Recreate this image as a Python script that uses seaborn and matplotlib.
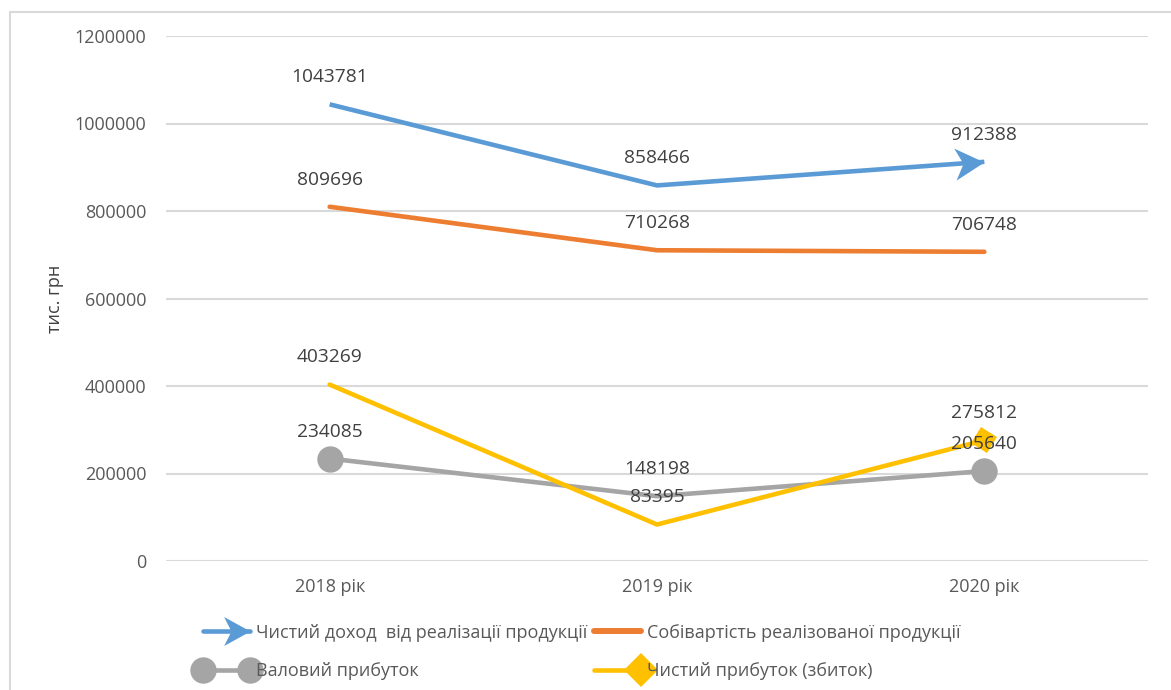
import numpy as np
import pandas as pd
import matplotlib
matplotlib.use("Agg")
import matplotlib.pyplot as plt
import seaborn as sns
from matplotlib.path import Path
from matplotlib.markers import MarkerStyle
from matplotlib.transforms import Affine2D
from matplotlib.lines import Line2D
from matplotlib.legend_handler import HandlerLine2D
from matplotlib.patches import Rectangle

# ---- data -------------------------------------------------------------
years = ["2018 рік", "2019 рік", "2020 рік"]
net_income = [1043781, 858466, 912388]
cost_of_sales = [809696, 710268, 706748]
gross_profit = [234085, 148198, 205640]
net_profit = [403269, 83395, 275812]

names = [
    "Чистий доход  від реалізації продукції",
    "Собівартість реалізованої продукції",
    "Валовий прибуток",
    "Чистий прибуток (збиток)",
]
y_ticks = [0, 200000, 400000, 600000, 800000, 1000000, 1200000]

# ---- style ------------------------------------------------------------
sns.set_theme(style="white")
plt.rcParams["font.family"] = ["Open Sans", "DejaVu Sans"]

BLUE, ORANGE, GREY, GOLD = "#5B9BD5", "#ED7D31", "#A5A5A5", "#FFC000"
TICK_C, LABEL_C = "#595959", "#404040"
LW = 3.3

fig = plt.figure(figsize=(11.71, 6.90), dpi=100)
ax = fig.add_axes([166 / 1171, 1 - 561 / 690, (1148 - 166) / 1171, (561 - 36) / 690])

df = pd.DataFrame({
    "pos": np.arange(len(years)),
    "net_income": net_income,
    "cost_of_sales": cost_of_sales,
    "gross_profit": gross_profit,
    "net_profit": net_profit,
})

ax.set_xlim(-0.5, len(years) - 0.5)
ax.set_ylim(0, 1200000)

# stealth arrowhead whose tip sits at the marker origin
arrow_path = Path(
    [(0, 0), (-1.0, 0.55), (-0.72, 0), (-1.0, -0.55), (0, 0)],
    [Path.MOVETO, Path.LINETO, Path.LINETO, Path.LINETO, Path.CLOSEPOLY],
)


def arrow_marker(angle):
    return MarkerStyle(arrow_path, transform=Affine2D().rotate_deg(angle))


# direction of the last blue segment on screen
fig.canvas.draw()
p1 = ax.transData.transform((1, net_income[1]))
p2 = ax.transData.transform((2, net_income[2]))
seg_angle = np.degrees(np.arctan2(p2[1] - p1[1], p2[0] - p1[0]))

sns.lineplot(data=df, x="pos", y="net_income", ax=ax, color=BLUE, lw=LW,
             marker=arrow_marker(seg_angle), markevery=[2], markersize=42,
             markeredgewidth=0, solid_capstyle="butt", zorder=3)
sns.lineplot(data=df, x="pos", y="cost_of_sales", ax=ax, color=ORANGE, lw=LW,
             solid_capstyle="round", zorder=3)
sns.lineplot(data=df, x="pos", y="gross_profit", ax=ax, color=GREY, lw=LW,
             marker="o", markevery=[0, 2], markersize=19, markeredgewidth=0,
             zorder=3)
sns.lineplot(data=df, x="pos", y="net_profit", ax=ax, color=GOLD, lw=LW,
             marker=MarkerStyle("D", transform=Affine2D().rotate_deg(12)),
             markevery=[2], markersize=14, markeredgewidth=0, zorder=4)

# value labels above every point
for series in (net_income, cost_of_sales, gross_profit, net_profit):
    for i, v in enumerate(series):
        ax.annotate(f"{v}", (i, v), xytext=(0, 19.5), textcoords="offset points",
                    ha="center", va="center", fontsize=13.8, color=LABEL_C,
                    zorder=5)

# axes cosmetics
ax.set_yticks(y_ticks)
ax.set_yticklabels([str(t) for t in y_ticks])
ax.set_xticks(range(len(years)))
ax.set_xticklabels(years)
ax.tick_params(axis="both", length=0, labelsize=13, colors=TICK_C)
ax.tick_params(axis="y", pad=14)
ax.tick_params(axis="x", pad=12)
ax.grid(axis="y", color="#D9D9D9", lw=1.5, zorder=0)
ax.grid(axis="x", visible=False)
for s in ax.spines.values():
    s.set_visible(False)
ax.set_xlabel("")
ax.set_ylabel("тис. грн", fontsize=13, color=LABEL_C)
ax.yaxis.set_label_coords((64 - 166) / (1148 - 166), 0.5)


# legend ----------------------------------------------------------------
class EndMarkers(HandlerLine2D):
    """Line handle that keeps markers only at the chosen ends."""

    def __init__(self, keep, **kw):
        super().__init__(numpoints=2, **kw)
        self.keep = keep

    def create_artists(self, legend, orig_handle, xdescent, ydescent, width,
                       height, fontsize, trans):
        artists = super().create_artists(legend, orig_handle, xdescent,
                                         ydescent, width, height, fontsize,
                                         trans)
        for a in artists:
            if self.keep:
                a.set_markevery(self.keep)
            else:
                a.set_marker("None")
        return artists


h_blue = Line2D([], [], color=BLUE, lw=LW, marker=arrow_marker(0),
                markersize=38, markeredgewidth=0)
h_orange = Line2D([], [], color=ORANGE, lw=LW + 1, solid_capstyle="round")
h_grey = Line2D([], [], color=GREY, lw=LW, marker="o", markersize=19,
                markeredgewidth=0)
h_gold = Line2D([], [], color=GOLD, lw=LW, marker="D", markersize=17,
                markeredgewidth=0)

leg = fig.legend(
    [h_blue, h_grey, h_orange, h_gold],
    [names[0], names[2], names[1], names[3]],
    handler_map={h_blue: EndMarkers([1]), h_grey: EndMarkers([0, 1]),
                 h_gold: EndMarkers([1]), h_orange: EndMarkers([])},
    ncol=2, loc="center left", bbox_to_anchor=(198 / 1171, 1 - 652 / 690),
    frameon=False, fontsize=13, handlelength=3.2, handletextpad=0.0,
    columnspacing=0.1, labelspacing=1.15, borderaxespad=0, borderpad=0,
)
for t in leg.get_texts():
    t.set_color(TICK_C)

# chart frame
fig.patches.append(Rectangle((10 / 1171, -0.05), 1.2, 1 - 12 / 690 + 0.05,
                             transform=fig.transFigure, fill=False,
                             edgecolor="#D9D9D9", lw=1.5, zorder=0))

fig.savefig("out.png", dpi=100)
